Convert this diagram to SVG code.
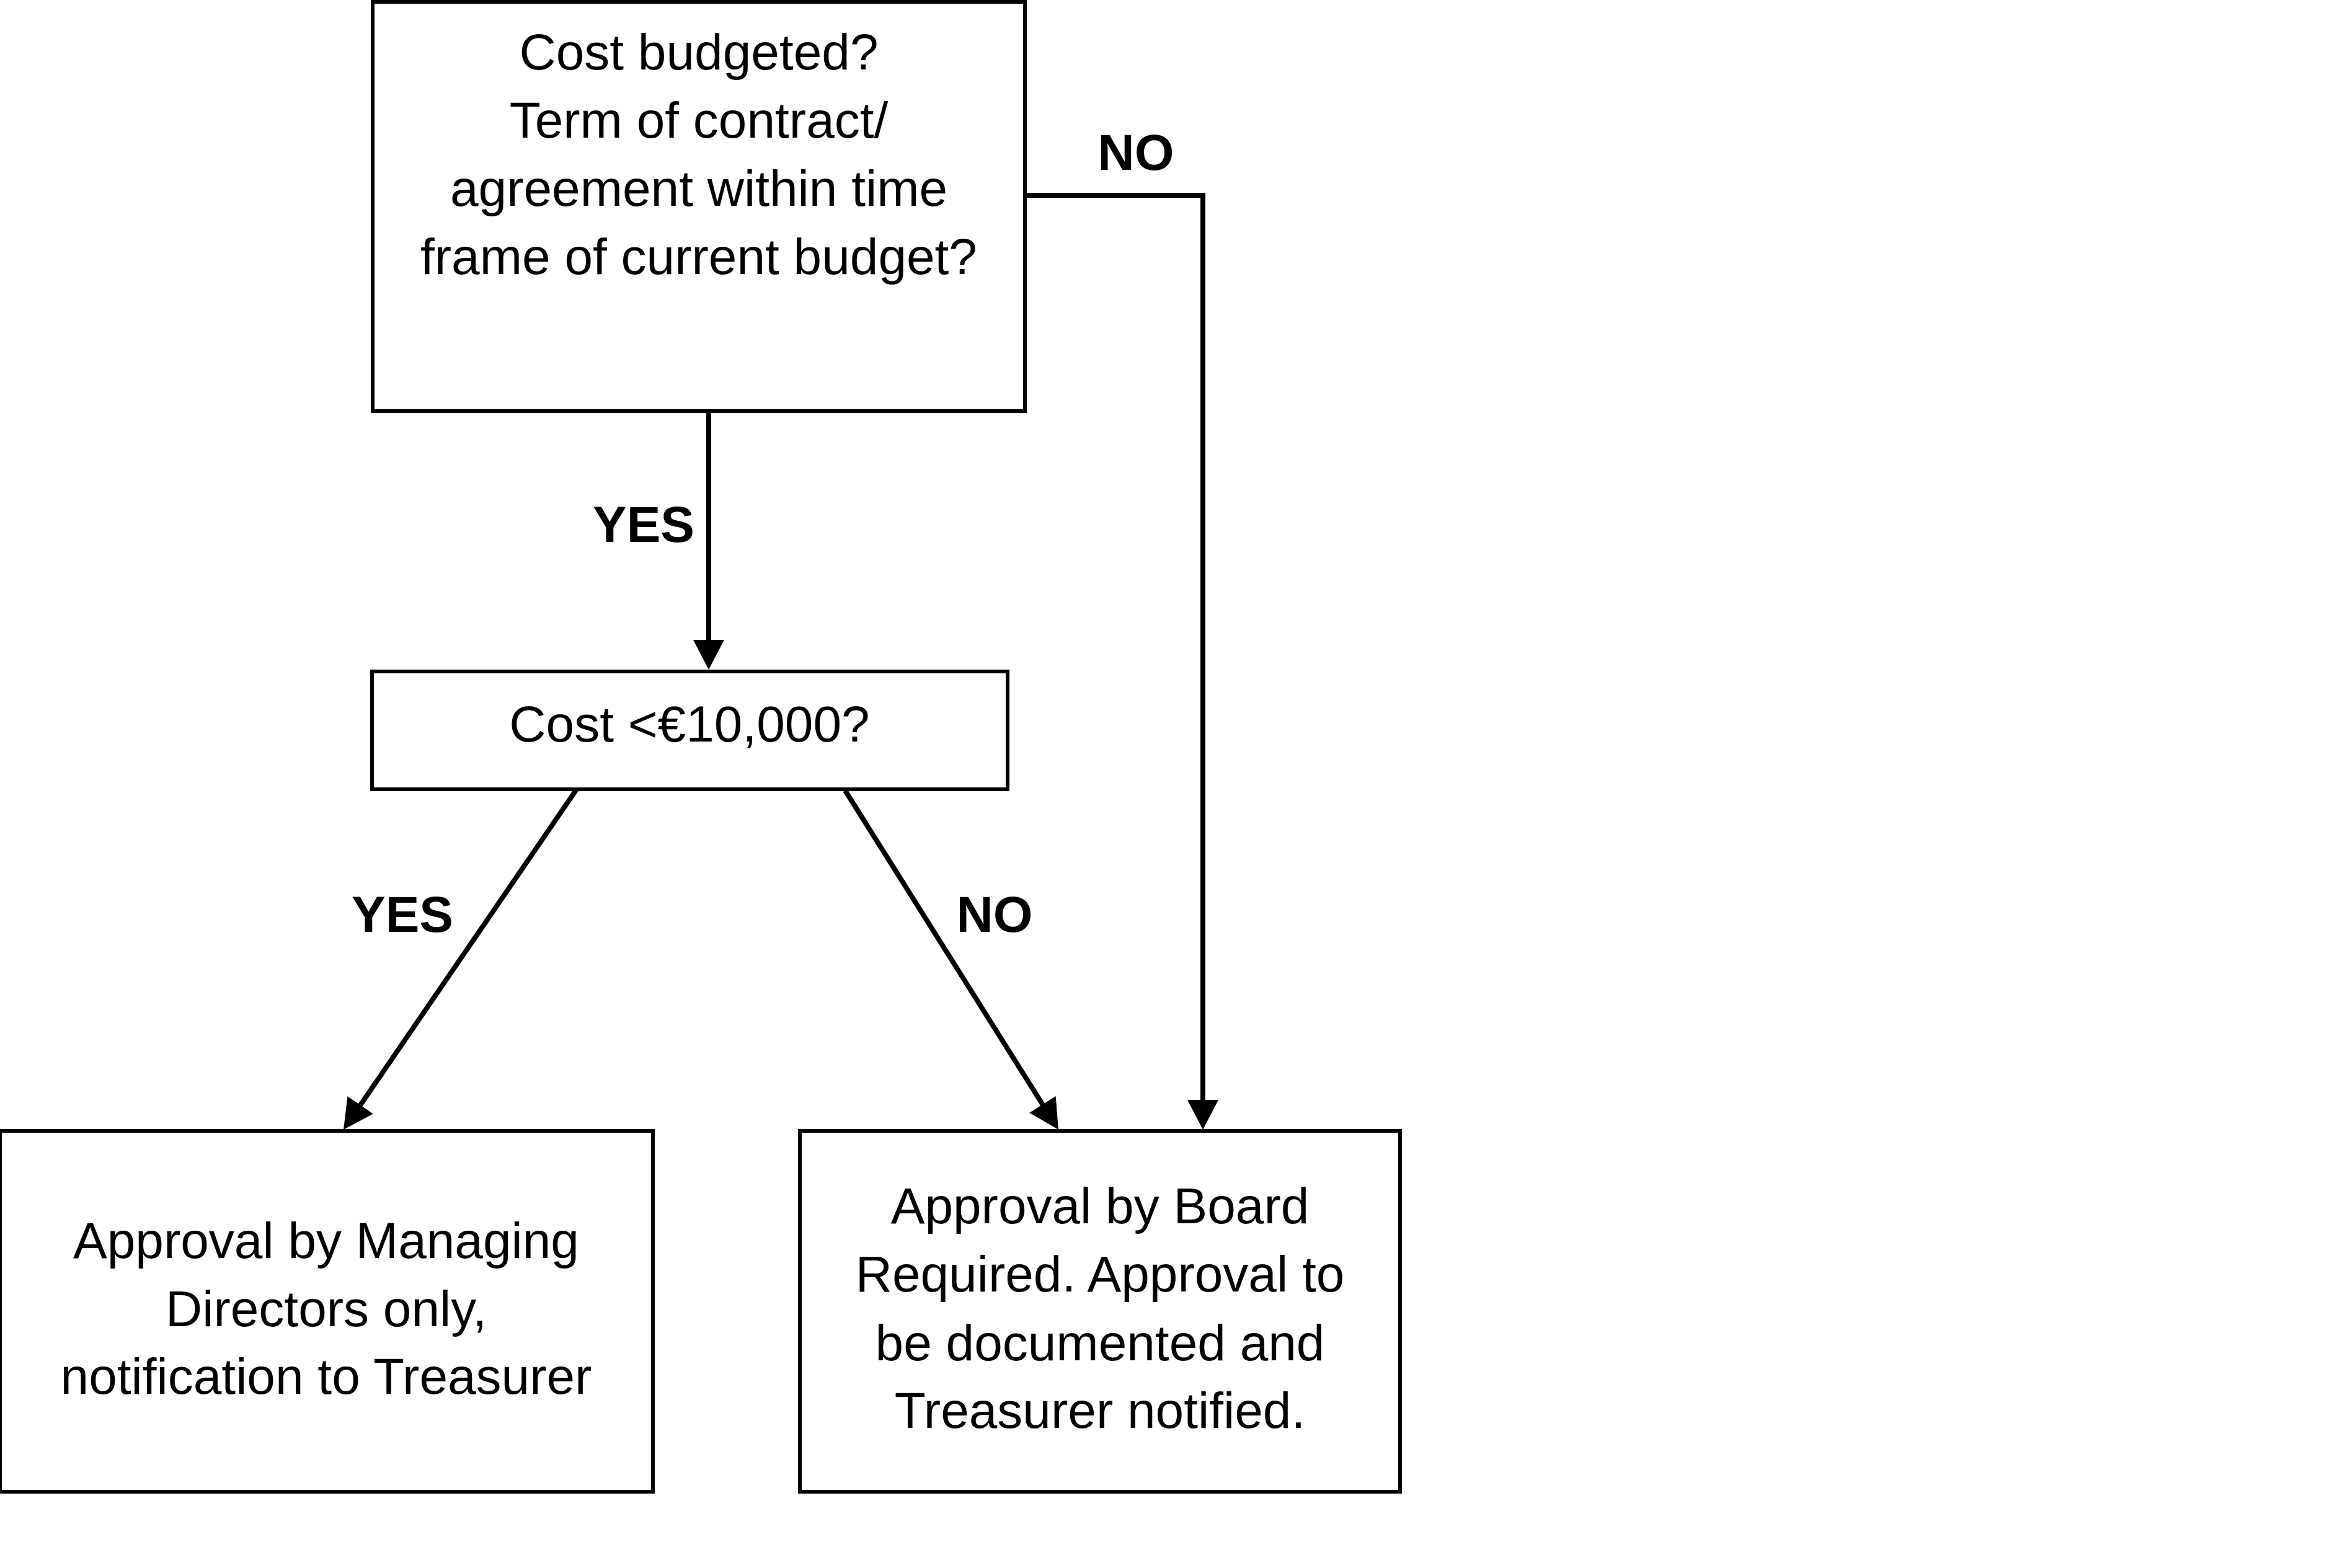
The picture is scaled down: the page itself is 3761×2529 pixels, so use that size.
<svg xmlns="http://www.w3.org/2000/svg" width="3761" height="2529" viewBox="0 0 3761 2529">
<style>
.box{fill:#fff;stroke:#000;stroke-width:6}
.t{font-family:"Liberation Sans",Arial,sans-serif;font-size:82px;fill:#000;text-anchor:middle}
.lbl{font-family:"Liberation Sans",Arial,sans-serif;font-size:82px;font-weight:bold;fill:#000;text-anchor:middle}
.c{fill:none;stroke:#000;stroke-width:8;marker-end:url(#ah)}
</style>
<defs>
<marker id="ah" markerUnits="userSpaceOnUse" markerWidth="50" markerHeight="50" refX="8" refY="25" orient="auto" viewBox="0 0 48 50">
<path d="M0,0 L48,25 L0,50 Z" fill="#000"/>
</marker>
</defs>
<rect width="3761" height="2529" fill="#fff"/>
<g id="connectors">
<path class="c" d="M1143,660 V1040"/>
<path class="c" d="M1650,315 H1940 V1782"/>
<path class="c" d="M930,1273 L576.6,1789"/>
<path class="c" d="M1363,1275 L1685.7,1788.1"/>
<text class="lbl" x="1038" y="874">YES</text>
<text class="lbl" x="1832" y="274">NO</text>
<text class="lbl" x="649" y="1503">YES</text>
<text class="lbl" x="1604" y="1503">NO</text>
</g>
<g id="n-budget">
<rect class="box" x="601" y="3" width="1052" height="660"/>
<text class="t" x="1127" y="112">Cost budgeted?</text>
<text class="t" x="1127" y="222">Term of contract/</text>
<text class="t" x="1127" y="332">agreement within time</text>
<text class="t" x="1127" y="442">frame of current budget?</text>
</g>
<g id="n-cost">
<rect class="box" x="600" y="1083" width="1025" height="190"/>
<text class="t" x="1112" y="1196">Cost &lt;€10,000?</text>
</g>
<g id="n-md">
<rect class="box" x="0" y="1824" width="1053" height="582"/>
<text class="t" x="526" y="2029">Approval by Managing</text>
<text class="t" x="526" y="2139">Directors only,</text>
<text class="t" x="526" y="2248">notification to Treasurer</text>
</g>
<g id="n-board">
<rect class="box" x="1290" y="1824" width="968" height="582"/>
<text class="t" x="1774" y="1973">Approval by Board</text>
<text class="t" x="1774" y="2083">Required. Approval to</text>
<text class="t" x="1774" y="2194">be documented and</text>
<text class="t" x="1774" y="2303">Treasurer notified.</text>
</g>
</svg>
